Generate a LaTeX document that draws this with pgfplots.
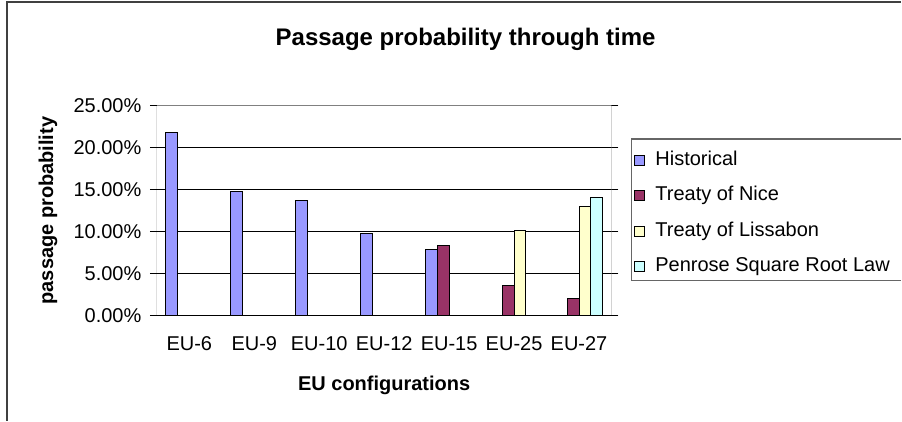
\documentclass[border=0pt]{standalone}
\usepackage{fontspec}
\setmainfont{Liberation Sans}
\usepackage{pgfplots}
\pgfplotsset{compat=1.18}

\definecolor{histc}{HTML}{9999FF}
\definecolor{nicec}{HTML}{993366}
\definecolor{lisc}{HTML}{FFFFCC}
\definecolor{penc}{HTML}{CCFFFF}

\begin{document}
\begin{tikzpicture}[x=1pt,y=1pt]
\begin{axis}[
  scale only axis, width=455pt, height=210pt,
  xmin=-0.5, xmax=6.5, ymin=0, ymax=25,
  ybar=0pt, bar width=11.8pt,
  axis line style={draw=none},
  xtick={0,...,6},
  xticklabels={EU-6,EU-9,EU-10,EU-12,EU-15,EU-25,EU-27},
  xtick style={draw=none},
  minor xtick={-0.5,0.5,...,6.5},
  minor x tick style={black,line width=1pt},
  ytick={0,5,...,25},
  y tick style={black,line width=1pt},
  tick align=outside, major tick length=7pt, minor tick length=7pt,
  ymajorgrids, grid style={black,line width=0.9pt},
  /pgf/number format/.cd, fixed, fixed zerofill, precision=2, assume math mode=true,
  /pgfplots/.cd,
  yticklabel={\pgfmathprintnumber{\tick}\%},
  tick label style={font=\fontsize{20}{24}\selectfont},
  yticklabel style={xshift=-5pt},
  xticklabel style={yshift=-11pt},
  title={Passage probability through time},
  every axis title/.style={at={(axis description cs:0.679,1.286)}, anchor=base,
    font=\fontsize{24}{28}\selectfont\bfseries},
  xlabel={EU configurations},
  xlabel style={at={(axis description cs:0.5,-0.3586)}, anchor=base,
    font=\fontsize{20}{24}\selectfont\bfseries},
  ylabel={passage probability},
  ylabel style={at={(axis description cs:-0.2396,0.5)}, anchor=center,
    font=\fontsize{20}{24}\selectfont\bfseries},
  legend image code/.code={\draw[#1,draw=black,line width=1pt] (0pt,-5pt) rectangle (10pt,5pt);},
  legend style={at={(axis description cs:1.050,0.788)}, anchor=north west,
    draw=none, fill=none, inner sep=0pt, row sep=15.5pt, column sep=10pt,
    font=\fontsize{20}{24}\selectfont,
    nodes={inner sep=0pt, text height=15pt, text depth=5pt}},
  legend cell align=left,
]
\addplot[fill=histc, draw=black, line width=1pt] coordinates
  {(0,21.83) (1,14.76) (2,13.65) (3,9.81) (4,7.88)};
\addplot[fill=nicec, draw=black, line width=1pt] coordinates
  {(4,8.32) (5,3.57) (6,1.99)};
\addplot[fill=lisc, draw=black, line width=1pt] coordinates
  {(5,10.08) (6,12.94)};
\addplot[fill=penc, draw=black, line width=1pt] coordinates
  {(6,14.09)};
\legend{Historical, Treaty of Nice, Treaty of Lissabon, Penrose Square Root Law}
% plot area border
\draw[black!50,line width=1.3pt] (rel axis cs:0,1) -- (rel axis cs:1,1) -- (rel axis cs:1,0);
\draw[black,line width=1pt] (rel axis cs:0,1) -- (rel axis cs:0,0) -- (rel axis cs:1,0);
\coordinate (o) at (rel axis cs:0,0);
\end{axis}

% chart frame and legend frame, placed from the plot's lower left corner
\begin{scope}[shift={(o)}]
  \path (-157,-105.3) rectangle (745,315.7);
  \draw[black!75,line width=1.5pt] (-150,-105.3) -- (-150,313.7) -- (745,313.7);
  \draw[black!60,line width=1.3pt] (745,176.7) -- (475,176.7) -- (475,34.7) -- (745,34.7);
\end{scope}
\end{tikzpicture}
\end{document}
